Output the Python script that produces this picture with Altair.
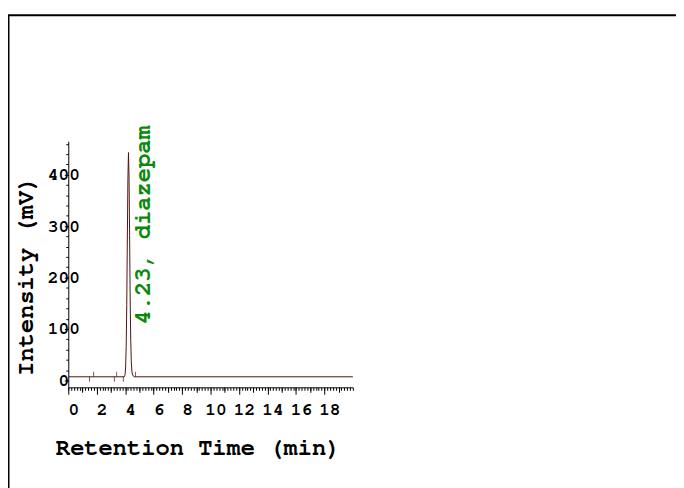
import altair as alt
import pandas as pd

# ---- data ----
time_min = [0.0, 3.94, 3.99, 4.03, 4.07, 4.11, 4.15, 4.19, 4.23, 4.27, 4.31, 4.35, 4.39, 4.43, 4.48, 4.55, 4.65, 20.0]
intensity_mv = [7, 7, 11, 26, 66, 147, 273, 391, 443, 395, 282, 158, 78, 34, 15, 9, 7, 7]
baseline_mv = 7
peak_start_min = [1.49, 3.24, 3.87]
peak_end_min = [1.78, 3.40, 4.72]
peak_rt = [4.23]
peak_label = ["4.23, diazepam"]

x_major = [0, 2, 4, 6, 8, 10, 12, 14, 16, 18]
x_mid = [1, 3, 5, 7, 9, 11, 13, 15, 17, 19]
x_minor = [round(i * 0.2, 1) for i in range(0, 101)]
y_major = [0, 100, 200, 300, 400]
y_minor = list(range(0, 461, 20))

FONT = "'Nimbus Mono PS', 'Nimbus Mono L', FreeMono, 'Courier 10 Pitch', Courier, 'Courier New', 'Liberation Mono', monospace"
TRACE = "#4a1212"
GREEN = "#0a8a0a"

trace_df = pd.DataFrame({"t": time_min, "v": intensity_mv})
start_df = pd.DataFrame({"t": peak_start_min, "v": [baseline_mv] * len(peak_start_min)})
end_df = pd.DataFrame({"t": peak_end_min, "v": [baseline_mv] * len(peak_end_min)})
label_df = pd.DataFrame({"t": peak_rt, "v": [baseline_mv], "label": peak_label})
frame_df = pd.DataFrame({"k": [0]})

xs = alt.Scale(domain=[0, 20], nice=False, zero=False)
ys = alt.Scale(domain=[-13.5, 465], nice=False, zero=False)

x_axis_major = alt.Axis(
    orient="bottom", values=x_major, grid=False, tickSize=7, tickColor="black",
    domainColor="black", labelFont=FONT, labelFontWeight="bold", labelFontSize=18,
    labelColor="black", labelPadding=6, labelOffset=5, labelFlush=False, labelOverlap=False,
    title="Retention Time (min)", titleFont=FONT, titleFontWeight="bold", titleFontSize=24,
    titleColor="black", titleX=-13, titleY=68, titleAlign="left", titleBaseline="alphabetic",
)
x_axis_minor = alt.Axis(orient="bottom", values=x_minor, grid=False, domain=False, labels=False,
                        tickSize=3, tickColor="black", title="")
x_axis_mid = alt.Axis(orient="bottom", values=x_mid, grid=False, domain=False, labels=False,
                      tickSize=5, tickColor="black", title="")

y_axis_major = alt.Axis(
    orient="left", values=y_major, grid=False, tickSize=4, tickColor="black",
    domainColor="black", labelFont=FONT, labelFontWeight="bold", labelFontSize=18,
    labelColor="black", labelAlign="center", labelBaseline="middle", labelPadding=1,
    labelFlush=False, labelOverlap=False,
    title="Intensity (mV)", titleFont=FONT, titleFontWeight="bold", titleFontSize=24,
    titleColor="black", titleAngle=270, titleX=-36, titleY=136, titleAlign="center",
    titleBaseline="alphabetic",
)
y_axis_minor = alt.Axis(orient="left", values=y_minor, grid=False, domain=False, labels=False,
                        tickSize=2.5, tickColor="black", title="")

frame = alt.Chart(frame_df).mark_rect(fillOpacity=0, stroke="black", strokeWidth=2).encode(
    x=alt.value(-60.5), x2=alt.value(900), y=alt.value(-127.5), y2=alt.value(900)
)

trace = alt.Chart(trace_df).mark_line(color=TRACE, strokeWidth=1).encode(
    x=alt.X("t:Q", scale=xs, axis=x_axis_major),
    y=alt.Y("v:Q", scale=ys, axis=y_axis_major),
)

starts = alt.Chart(start_df).mark_tick(orient="vertical", size=5, thickness=1, color=TRACE, yOffset=2.5).encode(
    x=alt.X("t:Q", scale=xs, axis=x_axis_minor),
    y=alt.Y("v:Q", scale=ys, axis=y_axis_minor),
)

ends = alt.Chart(end_df).mark_tick(orient="vertical", size=5, thickness=1, color=TRACE, yOffset=-2.5).encode(
    x=alt.X("t:Q", scale=xs, axis=x_axis_mid),
    y=alt.Y("v:Q", scale=ys, axis=None),
)

label = alt.Chart(label_df).mark_text(
    angle=270, align="left", baseline="alphabetic", dx=53, dy=22,
    font=FONT, fontSize=24, fontWeight="bold", color=GREEN,
).encode(
    x=alt.X("t:Q", scale=xs, axis=None),
    y=alt.Y("v:Q", scale=ys, axis=None),
    text="label:N",
)

chart = (
    alt.layer(frame, trace, starts, ends, label)
    .resolve_axis(x="independent", y="independent")
    .properties(
        width=288, height=249,
        padding={"left": 61, "top": 132, "right": 327, "bottom": 99},
        autosize=alt.AutoSizeParams(type="none"),
        background="white",
    )
    .configure_view(stroke="transparent")
)

chart.save("out.html", embed_options={"renderer": "svg", "actions": False})
